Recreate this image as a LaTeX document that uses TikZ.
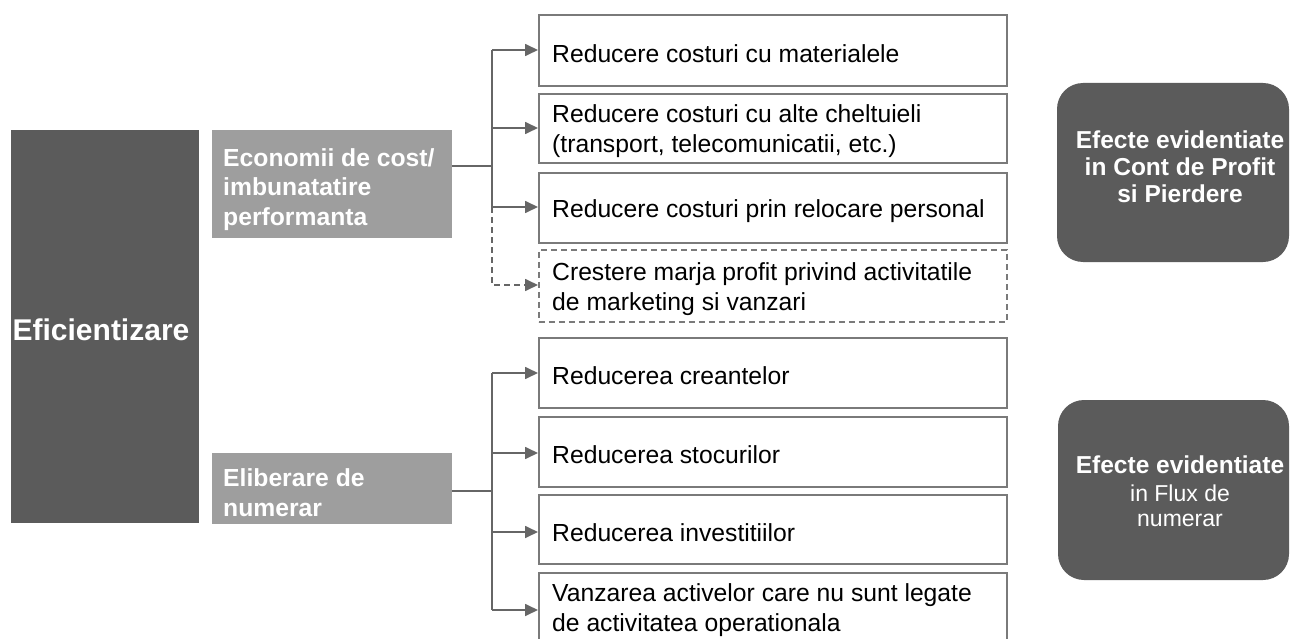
\documentclass[tikz,border=0pt]{standalone}
\usepackage{fontspec}
\setmainfont{Liberation Sans}
\usetikzlibrary{arrows.meta}
\definecolor{darkbox}{HTML}{5B5B5B}
\definecolor{midbox}{HTML}{9E9E9E}
\definecolor{linec}{HTML}{666666}
\definecolor{borderc}{HTML}{7A7A7A}
\begin{document}
\begin{tikzpicture}[x=1pt,y=-1pt,
  item/.style={draw=borderc, line width=1.6pt, minimum width=468pt, inner sep=0pt, anchor=north west},
  dashitem/.style={item, dashed, dash pattern=on 6pt off 4pt},
  itemtext/.style={anchor=west, align=left, inner sep=0pt, font=\fontsize{24.7}{30}\selectfont, text=black},
  gbox/.style={fill=midbox, anchor=north west, minimum width=240pt, inner sep=0pt},
  gtext/.style={text=white, anchor=west, align=left, inner sep=0pt, font=\fontsize{24.7}{29.5}\selectfont\bfseries},
  conn/.style={draw=linec, line width=1.7pt},
  arr/.style={conn, -{Triangle[length=13pt,width=12pt]}},
  effect/.style={fill=darkbox, rounded corners=26pt},
  efftext/.style={text=white, align=center, inner sep=0pt}
]
\useasboundingbox (0,0) rectangle (1290,639);

% left main box
\node[fill=darkbox, minimum width=188pt, minimum height=393pt, anchor=north west, inner sep=0pt] (main) at (11,130) {};
\node[text=white, font=\fontsize{30}{34}\selectfont\bfseries, inner sep=0pt] (maintext) at (101,330) {Eficientizare};

% gray boxes
\node[gbox, minimum height=108pt] (g1) at (212,130) {};
\node[gtext] (g1t) at ([xshift=11pt,yshift=-5pt]g1.west) {Economii de cost/\\imbunatatire\\performanta};
\node[gbox, minimum height=71pt] (g2) at (212,453) {};
\node[gtext] (g2t) at ([xshift=11pt,yshift=-4pt]g2.west) {Eliberare de\\numerar};

% item boxes
\node[item, minimum height=71pt] (b1) at (538,14) {};
\node[item, minimum height=69pt] (b2) at (538,93) {};
\node[item, minimum height=70pt] (b3) at (538,172) {};
\node[dashitem, minimum height=72pt] (b4) at (538,249) {};
\node[item, minimum height=70pt] (b5) at (538,337) {};
\node[item, minimum height=70pt] (b6) at (538,416) {};
\node[item, minimum height=69pt] (b7) at (538,494) {};
\node[item, minimum height=74pt] (b8) at (538,572) {};
\node[itemtext] (b1t) at ([xshift=14pt,yshift=-3pt]b1.west) {Reducere costuri cu materialele};
\node[itemtext] (b2t) at ([xshift=14pt,yshift=-3pt]b2.west) {Reducere costuri cu alte cheltuieli\\(transport, telecomunicatii, etc.)};
\node[itemtext] (b3t) at ([xshift=14pt,yshift=-3pt]b3.west) {Reducere costuri prin relocare personal};
\node[itemtext] (b4t) at ([xshift=14pt,yshift=-3pt]b4.west) {Crestere marja profit privind activitatile\\de marketing si vanzari};
\node[itemtext] (b5t) at ([xshift=14pt,yshift=-3pt]b5.west) {Reducerea creantelor};
\node[itemtext] (b6t) at ([xshift=14pt,yshift=-3pt]b6.west) {Reducerea stocurilor};
\node[itemtext] (b7t) at ([xshift=14pt,yshift=-3pt]b7.west) {Reducerea investitiilor};
\node[itemtext] (b8t) at ([xshift=14pt,yshift=0pt]b8.west) {Vanzarea activelor care nu sunt legate\\de activitatea operationala};

% connectors, group 1
\coordinate (t1) at (492,166);
\coordinate (j1) at (492,50);
\coordinate (j2) at (492,128);
\coordinate (j3) at (492,207);
\coordinate (j4) at (492,285);
\draw[conn] (g1.east |- t1) -- (t1);
\draw[conn] (j1) -- (j3);
\draw[arr] (j1) -- (b1.west |- j1);
\draw[arr] (j2) -- (b2.west |- j2);
\draw[arr] (j3) -- (b3.west |- j3);
\draw[arr, dashed, dash pattern=on 6pt off 4pt] (j3) -- (j4) -- (b4.west |- j4);

% connectors, group 2
\coordinate (t2) at (492,491);
\coordinate (k1) at (492,373);
\coordinate (k2) at (492,453);
\coordinate (k3) at (492,532);
\coordinate (k4) at (492,610);
\draw[conn] (g2.east |- t2) -- (t2);
\draw[conn] (k1) -- (k4);
\draw[arr] (k1) -- (b5.west |- k1);
\draw[arr] (k2) -- (b6.west |- k2);
\draw[arr] (k3) -- (b7.west |- k3);
\draw[arr] (k4) -- (b8.west |- k4);

% effect boxes
\fill[effect] (1057,83) rectangle (1289,262);
\node[efftext, font=\fontsize{24.5}{27}\selectfont\bfseries] (e1) at (1180,167) {Efecte evidentiate\\in Cont de Profit\\si Pierdere};
\fill[effect] (1058,400) rectangle (1289,580);
\node[efftext, font=\fontsize{24.5}{27}\selectfont\bfseries, anchor=base] (e2a) at (1180,473) {Efecte evidentiate};
\node[efftext, font=\fontsize{23}{26}\selectfont, anchor=base] (e2b) at (1180,501) {in Flux de};
\node[efftext, font=\fontsize{23}{26}\selectfont, anchor=base] (e2c) at (1180,526) {numerar};
\end{tikzpicture}
\end{document}
